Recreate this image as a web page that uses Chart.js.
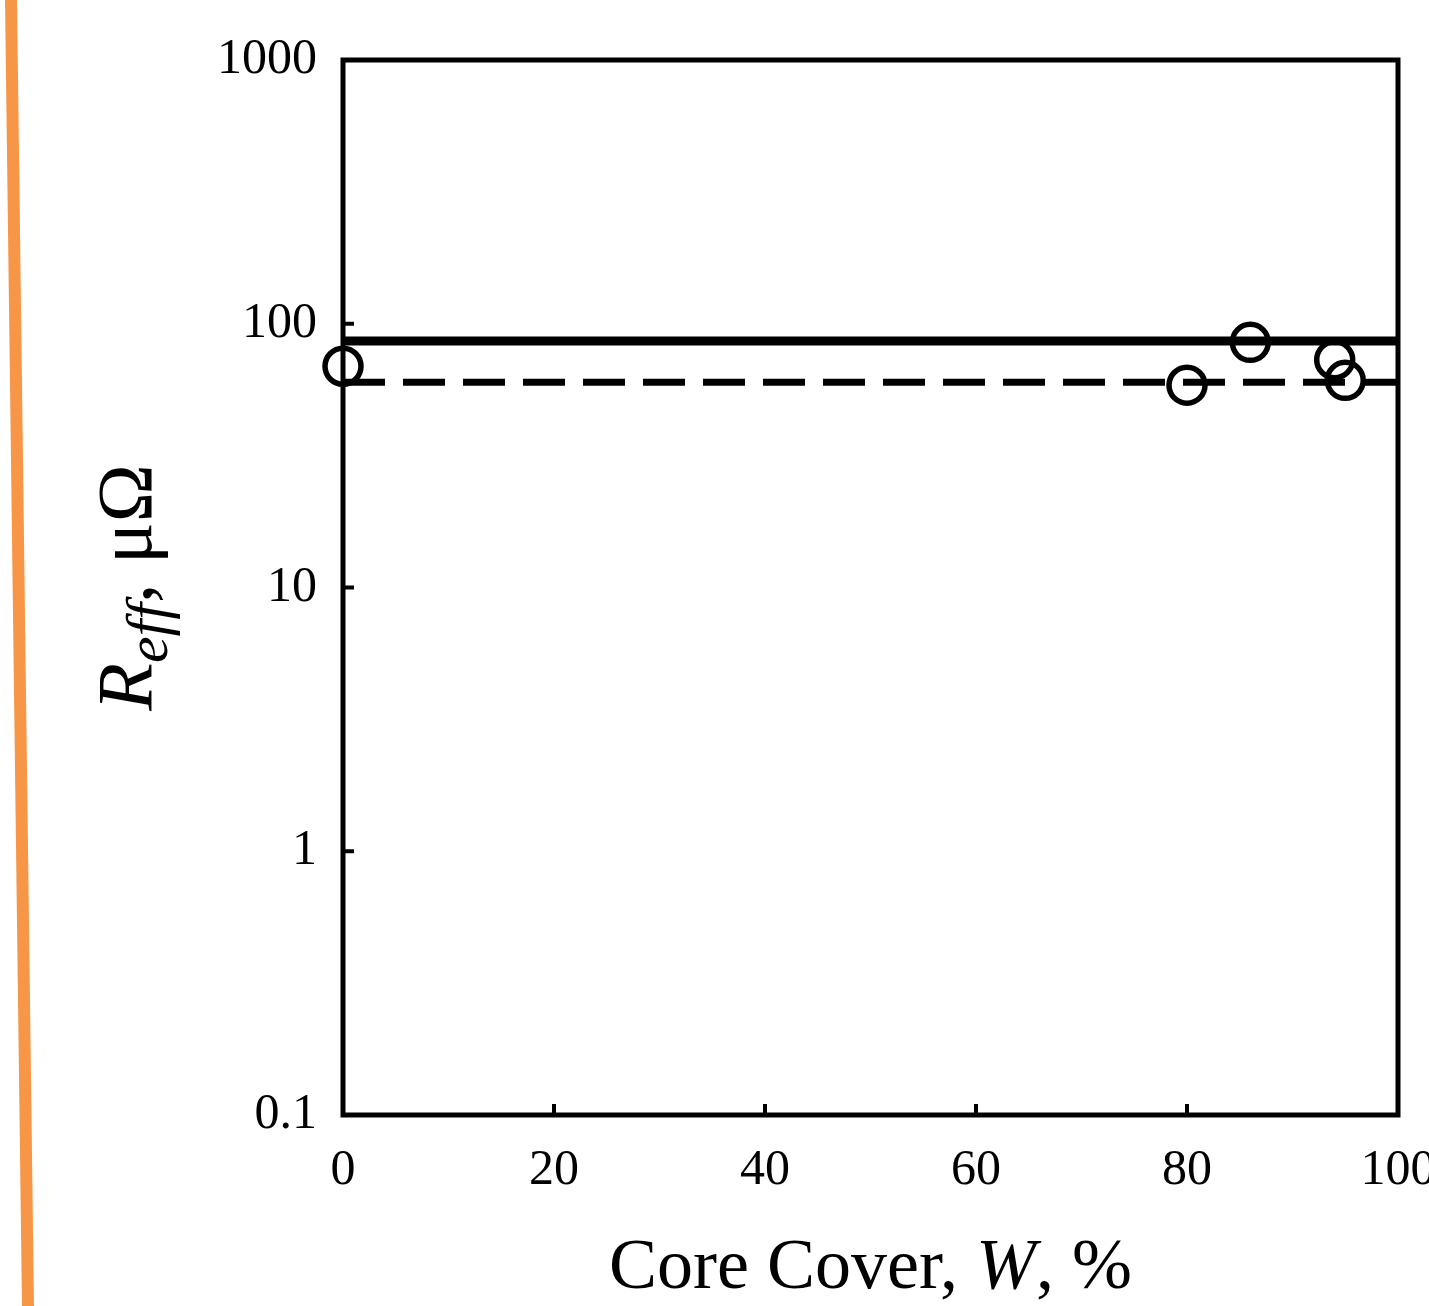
<!DOCTYPE html>
<html>
<head>
<meta charset="utf-8">
<script src="https://cdn.jsdelivr.net/npm/chart.js@4/dist/chart.umd.min.js"></script>
<style>
  html, body { margin: 0; padding: 0; background: #fff; overflow: hidden; }
  #wrap { width: 1429px; height: 1306px; position: relative; }
</style>
</head>
<body>
<div id="wrap"><canvas id="myChart"></canvas></div>
<script>
// measured points (core cover %, R_eff in micro-ohm)
const coverPct = [0, 80, 86, 94, 95];
const reffVals = [69, 58.5, 85, 73, 61];
// two horizontal reference lines
const lineX = [0, 100];
const solidLevel = [86, 86];
const dashedLevel = [60, 60];
const yTicks = [0.1, 1, 10, 100, 1000];
const xTicks = [0, 20, 40, 60, 80, 100];

const serif = "'Liberation Serif', 'Times New Roman', serif";

const framePlugin = {
    id: 'frame',
    beforeDatasetsDraw(chart) {
        const ctx = chart.ctx;
        const a = chart.chartArea;
        const xs = chart.scales.x, ys = chart.scales.y;
        ctx.save();
        ctx.strokeStyle = '#000';
        ctx.lineWidth = 5;
        ctx.strokeRect(a.left, a.top, a.right - a.left, a.bottom - a.top);
        // inward tick marks
        ctx.lineWidth = 4;
        ctx.beginPath();
        xTicks.forEach(v => {
            const px = xs.getPixelForValue(v);
            ctx.moveTo(px, a.bottom);
            ctx.lineTo(px, a.bottom - 11);
        });
        yTicks.forEach(v => {
            const py = ys.getPixelForValue(v);
            ctx.moveTo(a.left, py);
            ctx.lineTo(a.left + 11, py);
        });
        ctx.stroke();
        ctx.restore();
    },
    afterDraw(chart) {
        const ctx = chart.ctx;
        const a = chart.chartArea;
        ctx.save();
        // orange edge stripe
        ctx.strokeStyle = '#F79646';
        ctx.lineWidth = 12;
        ctx.beginPath();
        ctx.moveTo(11, 0);
        ctx.lineTo(28, chart.height);
        ctx.stroke();

        ctx.fillStyle = '#000';
        ctx.textBaseline = 'alphabetic';
        ctx.textAlign = 'left';

        // x title
        const xParts = [
            { t: 'Core Cover, ', f: '72px ' + serif },
            { t: 'W', f: 'italic 72px ' + serif },
            { t: ', %', f: '72px ' + serif }
        ];
        let w = 0;
        xParts.forEach(p => { ctx.font = p.f; p.w = ctx.measureText(p.t).width; w += p.w; });
        let x = (a.left + a.right) / 2 - w / 2;
        xParts.forEach(p => { ctx.font = p.f; ctx.fillText(p.t, x, 1288); x += p.w; });

        // y title, rotated
        const yParts = [
            { t: 'R', f: 'italic 78px ' + serif, dy: 0 },
            { t: 'eff', f: 'italic 60px ' + serif, dy: 16 },
            { t: ', \u03bc\u03a9', f: '78px ' + serif, dy: 0 }
        ];
        w = 0;
        yParts.forEach(p => { ctx.font = p.f; p.w = ctx.measureText(p.t).width; w += p.w; });
        ctx.translate(151, (a.top + a.bottom) / 2);
        ctx.rotate(-Math.PI / 2);
        x = -w / 2;
        yParts.forEach(p => { ctx.font = p.f; ctx.fillText(p.t, x, p.dy); x += p.w; });
        ctx.restore();
    }
};

const myChart = new Chart(document.getElementById('myChart'), {
    type: 'scatter',
    data: {
        datasets: [{
            label: 'measured',
            data: coverPct.map((c, i) => ({ x: c, y: reffVals[i] })),
            showLine: false,
            pointStyle: 'circle',
            pointRadius: 18,
            pointBorderWidth: 5.5,
            pointBorderColor: '#000',
            pointBackgroundColor: 'rgba(0,0,0,0)',
            order: 0
        }, {
            label: 'solid',
            data: lineX.map((c, i) => ({ x: c, y: solidLevel[i] })),
            showLine: true,
            borderColor: '#000',
            borderWidth: 9,
            pointRadius: 0,
            order: 1
        }, {
            label: 'dashed',
            data: lineX.map((c, i) => ({ x: c, y: dashedLevel[i] })),
            showLine: true,
            borderColor: '#000',
            borderWidth: 7,
            borderDash: [42, 18],
            pointRadius: 0,
            order: 2
        }]
    },
    options: {
        responsive: true,
        maintainAspectRatio: false,
        animation: false,
        clip: false,
        layout: { padding: { top: 60, right: 31, left: 0, bottom: 0 } },
        plugins: {
            legend: { display: false },
            tooltip: { enabled: false }
        },
        scales: {
            x: {
                type: 'linear',
                min: 0,
                max: 100,
                grid: { display: false },
                border: { display: false },
                afterBuildTicks: s => { s.ticks = xTicks.map(v => ({ value: v })); },
                ticks: {
                    color: '#000',
                    font: { family: serif, size: 50 },
                    padding: 18,
                    maxRotation: 0,
                    autoSkip: false
                },
                afterFit: s => { s.height = 191; s.paddingLeft = 0; s.paddingRight = 0; }
            },
            y: {
                type: 'logarithmic',
                min: 0.1,
                max: 1000,
                grid: { display: false },
                border: { display: false },
                afterBuildTicks: s => { s.ticks = yTicks.map(v => ({ value: v })); },
                ticks: {
                    color: '#000',
                    font: { family: serif, size: 50 },
                    padding: 18,
                    autoSkip: false,
                    callback: v => String(v)
                },
                afterFit: s => { s.width = 343; s.paddingTop = 0; s.paddingBottom = 0; }
            }
        }
    },
    plugins: [framePlugin]
});
</script>
</body>
</html>
